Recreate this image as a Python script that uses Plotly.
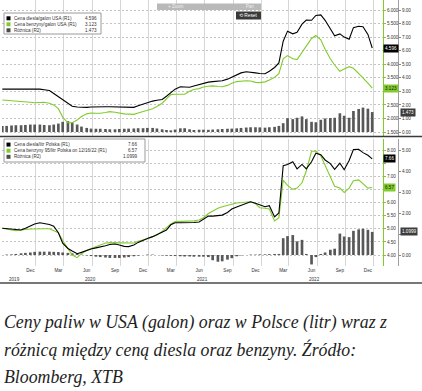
import plotly.graph_objects as go
import pandas as pd

W, H = 422, 391

dates = pd.date_range("2019-09-01", periods=80, freq="SMS")

us_diesel = [3.08, 3.07, 3.08, 3.08, 3.08, 3.09, 3.09, 3.10, 3.08, 3.06,
             3.03, 2.92, 2.80, 2.68, 2.55, 2.45, 2.42, 2.41, 2.41, 2.42,
             2.43, 2.43, 2.43, 2.43, 2.43, 2.42, 2.41, 2.41, 2.41, 2.47,
             2.53, 2.59, 2.64, 2.67, 2.70, 2.82, 2.95, 3.08, 3.17, 3.16,
             3.15, 3.20, 3.26, 3.30, 3.34, 3.36, 3.37, 3.39, 3.45, 3.52,
             3.58, 3.68, 3.72, 3.71, 3.68, 3.66, 3.65, 3.74, 3.88, 4.05,
             4.85, 5.22, 5.12, 5.18, 5.48, 5.63, 5.62, 5.80, 5.82, 5.62,
             5.30, 5.05, 5.12, 5.00, 4.92, 5.35, 5.40, 5.38, 5.10, 4.60]

us_gasoline = [2.68, 2.67, 2.66, 2.65, 2.64, 2.62, 2.60, 2.58, 2.58, 2.60,
               2.56, 2.50, 2.36, 2.05, 1.84, 1.84, 1.94, 2.07, 2.17, 2.20,
               2.19, 2.19, 2.22, 2.25, 2.23, 2.19, 2.17, 2.16, 2.15, 2.20,
               2.25, 2.30, 2.36, 2.44, 2.56, 2.72, 2.88, 2.89, 2.89, 2.89,
               3.00, 3.07, 3.10, 3.16, 3.19, 3.20, 3.18, 3.17, 3.22, 3.30,
               3.36, 3.38, 3.39, 3.38, 3.33, 3.32, 3.35, 3.42, 3.52, 3.65,
               4.20, 4.32, 4.20, 4.17, 4.45, 4.70, 4.95, 5.06, 4.90, 4.55,
               4.20, 3.97, 3.74, 3.82, 3.91, 3.85, 3.67, 3.50, 3.30, 3.12]

us_spread = [0.45, 0.45, 0.48, 0.50, 0.50, 0.52, 0.55, 0.55, 0.55, 0.52,
             0.50, 0.55, 0.62, 0.75, 0.80, 0.70, 0.55, 0.40, 0.30, 0.25,
             0.24, 0.24, 0.22, 0.20, 0.20, 0.22, 0.24, 0.25, 0.26, 0.28,
             0.28, 0.30, 0.30, 0.26, 0.20, 0.15, 0.12, 0.18, 0.27, 0.28,
             0.20, 0.15, 0.17, 0.17, 0.16, 0.18, 0.20, 0.22, 0.24, 0.25,
             0.27, 0.30, 0.33, 0.35, 0.35, 0.34, 0.32, 0.35, 0.38, 0.45,
             0.65, 1.02, 0.95, 1.05, 1.15, 0.95, 0.75, 0.72, 0.90, 1.00,
             1.03, 1.05, 1.38, 1.20, 1.05, 1.55, 1.70, 1.80, 1.72, 1.47]

pl_diesel = [5.02, 5.00, 4.98, 4.96, 4.95, 5.02, 5.10, 5.18, 5.23, 5.20,
             5.16, 5.10, 4.85, 4.45, 4.25, 4.15, 4.05, 4.10, 4.18, 4.23,
             4.27, 4.30, 4.35, 4.40, 4.42, 4.38, 4.33, 4.32, 4.38, 4.48,
             4.57, 4.63, 4.70, 4.78, 4.87, 4.95, 5.15, 5.23, 5.23, 5.23,
             5.23, 5.24, 5.26, 5.35, 5.48, 5.48, 5.50, 5.52, 5.62, 5.75,
             5.83, 5.90, 5.97, 6.03, 5.97, 5.90, 5.84, 5.88, 5.45, 5.60,
             7.40, 7.45, 7.55, 7.28, 7.45, 7.28, 7.55, 7.88, 7.82, 7.62,
             7.48, 7.26, 7.50, 7.25, 7.60, 8.02, 8.03, 7.90, 7.80, 7.66]

pl_gasoline = [5.02, 4.98, 4.95, 4.93, 4.94, 4.97, 4.99, 5.00, 5.00, 5.00,
               5.00, 4.93, 4.85, 4.55, 4.25, 4.00, 3.90, 4.05, 4.18, 4.25,
               4.33, 4.40, 4.46, 4.47, 4.47, 4.46, 4.45, 4.45, 4.46, 4.52,
               4.57, 4.62, 4.70, 4.76, 4.90, 5.05, 5.18, 5.27, 5.28, 5.28,
               5.28, 5.30, 5.33, 5.42, 5.58, 5.68, 5.78, 5.84, 5.88, 5.93,
               5.98, 6.00, 6.02, 6.03, 5.95, 5.80, 5.78, 5.75, 5.30, 5.42,
               6.85, 6.65, 6.50, 6.55, 6.75, 7.20, 7.95, 7.96, 7.78, 7.40,
               6.95, 6.62, 6.55, 6.38, 6.55, 6.83, 6.86, 6.70, 6.55, 6.57]

pl_spread = [0.00, 0.02, 0.03, 0.05, 0.08, 0.10, 0.12, 0.15, 0.16, 0.16,
             0.16, 0.15, 0.14, 0.12, 0.10, 0.08, 0.06, 0.02, -0.02, -0.05,
             -0.08, -0.10, -0.12, -0.14, -0.14, -0.14, -0.12, -0.10, -0.06, -0.03,
             0.00, 0.02, 0.02, 0.00, -0.02, -0.03, -0.04, -0.05, -0.06, -0.07,
             -0.07, -0.08, -0.08, -0.08, -0.10, -0.25, -0.32, -0.30, -0.22, -0.15,
             -0.06, -0.02, 0.00, 0.02, 0.02, 0.03, 0.03, 0.04, 0.05, 0.05,
             0.80, 0.90, 0.95, 0.65, 0.72, 0.05, -0.45, -0.10, 0.05, 0.12,
             0.25, 0.30, 1.02, 0.88, 0.85, 1.15, 1.22, 1.25, 1.20, 1.10]

month_tick_dates = ["2019-12-01", "2020-03-01", "2020-06-01", "2020-09-01",
                    "2020-12-01", "2021-03-01", "2021-06-01", "2021-09-01",
                    "2021-12-01", "2022-03-01", "2022-06-01", "2022-09-01",
                    "2022-12-01"]
month_tick_labels = ["Dec", "Mar", "Jun", "Sep", "Dec", "Mar", "Jun", "Sep",
                     "Dec", "Mar", "Jun", "Sep", "Dec"]
grid_dates = ["2019-12-19", "2020-03-19", "2020-06-19", "2020-09-19",
              "2020-12-19", "2021-03-19", "2021-06-19", "2021-09-19",
              "2021-12-19", "2022-03-19", "2022-06-19", "2022-09-19",
              "2022-12-19"]
year_labels = ["2019", "2020", "2021", "2022"]
year_label_dates = ["2019-10-12", "2020-06-12", "2021-06-11", "2022-06-12"]

# right-axis tick labels (those hidden behind the last-value boxes are left blank)
us_r1_ticks = [1.5, 2.0, 2.5, 3.0, 3.5, 4.0, 4.5, 5.0, 5.5, 6.0]
us_r1_text = ["1.500", "2.000", "2.500", "", "3.500", "4.000", "", "5.000", "5.500", "6.000"]
us_r2_ticks = [0, 1, 2, 3, 4, 5, 6, 7, 8, 9]
us_r2_text = ["0.00", "1.00", "2.00", "3.00", "4.00", "5.00", "6.00", "7.00", "8.00", "9.00"]
pl_r1_ticks = [4.0, 4.5, 5.0, 5.5, 6.0, 6.5, 7.0, 7.5, 8.0]
pl_r1_text = ["4.00", "4.50", "5.00", "5.50", "6.00", "", "7.00", "", "8.00"]
pl_r2_ticks = [0, 1, 2, 3, 4, 5]
pl_r2_text = ["0.00", "", "2.00", "3.00", "4.00", "5.00"]

us_names = ["Cena diesla/galon USA (R1)", "Cena benzyny/galon USA (R1)", "Różnica (R2)"]
us_last = ["4.596", "3.123", "1.473"]
pl_names = ["Cena diesla/litr Polska (R1)",
            "Cena benzyny 95/litr Polska on 12/16/22 (R1)", "Różnica (R2)"]
pl_last = ["7.66", "6.57", "1.0999"]

caption_lines = ["Ceny paliw w USA (galon) oraz w Polsce (litr) wraz z",
                 "różnicą między ceną diesla oraz benzyny. Źródło:",
                 "Bloomberg, XTB"]

# ---------------- styling ----------------
BLACK = "#000000"
GREEN = "#80cc2c"
BAR = "#585858"
GRID_H = "#c4c4c4"
GRID_V = "#d6d6d6"
TXT = "#333333"
SMALL = dict(family="Liberation Sans, Arial, sans-serif", size=4.6, color=TXT)


def X(px):
    return px / W


def Y(py):
    return 1 - py / H


XDOM = [X(2), X(383)]
XRANGE = ["2019-08-31", "2023-01-19"]

fig = go.Figure()
# top panel (USA)
fig.add_trace(go.Bar(x=dates, y=us_spread, marker=dict(color=BAR, line_width=0),
                     xaxis="x", yaxis="y"))
fig.add_trace(go.Scatter(x=dates, y=us_gasoline, mode="lines",
                         line=dict(color=GREEN, width=1.1), xaxis="x", yaxis="y2"))
fig.add_trace(go.Scatter(x=dates, y=us_diesel, mode="lines",
                         line=dict(color=BLACK, width=1.1), xaxis="x", yaxis="y2"))
# bottom panel (Poland)
fig.add_trace(go.Bar(x=dates, y=pl_spread, marker=dict(color=BAR, line_width=0),
                     xaxis="x2", yaxis="y3"))
fig.add_trace(go.Scatter(x=dates, y=pl_gasoline, mode="lines",
                         line=dict(color=GREEN, width=1.1), xaxis="x2", yaxis="y4"))
fig.add_trace(go.Scatter(x=dates, y=pl_diesel, mode="lines",
                         line=dict(color=BLACK, width=1.1), xaxis="x2", yaxis="y4"))

minor_grid = dict(tickmode="array", tickvals=grid_dates, showgrid=True,
                  gridcolor=GRID_V, gridwidth=1, ticks="")

TOP_DOM = [Y(136), Y(0)]
BOT_DOM = [Y(266), Y(139)]

fig.update_layout(
    width=W, height=H,
    margin=dict(l=0, r=0, t=0, b=0),
    paper_bgcolor="white", plot_bgcolor="white",
    showlegend=False, bargap=0.38,
    xaxis=dict(domain=XDOM, range=XRANGE, anchor="y", type="date",
               tickmode="array", tickvals=month_tick_dates, ticktext=month_tick_labels,
               showticklabels=False, showgrid=False, ticks="", zeroline=False,
               minor=minor_grid),
    xaxis2=dict(domain=XDOM, range=XRANGE, anchor="y3", type="date",
                tickmode="array", tickvals=month_tick_dates, ticktext=month_tick_labels,
                showticklabels=True, tickfont=SMALL, showgrid=False, ticks="",
                zeroline=False, minor=minor_grid),
    # top R2 (bars)
    yaxis=dict(domain=TOP_DOM, range=[-0.295, 9.738], side="right", anchor="free",
               position=X(398), tickmode="array", tickvals=us_r2_ticks,
               ticktext=us_r2_text, tickfont=SMALL, ticks="outside", ticklen=2,
               tickcolor="#888888", showline=True, linecolor="#a0a0a0", linewidth=1,
               showgrid=False, zeroline=False),
    # top R1 (lines)
    yaxis2=dict(overlaying="y", range=[1.3525, 6.369], side="right", anchor="x",
                tickmode="array", tickvals=us_r1_ticks, ticktext=us_r1_text,
                tickfont=SMALL, ticks="outside", ticklen=2, tickcolor=GREEN,
                showline=True, linecolor=GREEN, linewidth=1,
                showgrid=True, gridcolor=GRID_H, griddash="2px,2px", gridwidth=1,
                zeroline=False),
    # bottom R2 (bars)
    yaxis3=dict(domain=BOT_DOM, range=[-0.524, 5.524], side="right", anchor="free",
                position=X(398), tickmode="array", tickvals=pl_r2_ticks,
                ticktext=pl_r2_text, tickfont=SMALL, ticks="outside", ticklen=2,
                tickcolor="#888888", showline=True, linecolor="#a0a0a0", linewidth=1,
                showgrid=False, zeroline=False),
    # bottom R1 (lines)
    yaxis4=dict(overlaying="y3", range=[3.581, 8.419], side="right", anchor="x2",
                tickmode="array", tickvals=pl_r1_ticks, ticktext=pl_r1_text,
                tickfont=SMALL, ticks="outside", ticklen=2, tickcolor=GREEN,
                showline=True, linecolor=GREEN, linewidth=1,
                showgrid=True, gridcolor=GRID_H, griddash="2px,2px", gridwidth=1,
                zeroline=False),
)

shapes = []
annotations = []

# panel separator and bottom frame line
shapes.append(dict(type="line", xref="paper", yref="paper", x0=0, x1=1,
                   y0=Y(136.5), y1=Y(136.5), line=dict(color="#3a3a3a", width=1.5)))
shapes.append(dict(type="line", xref="paper", yref="paper", x0=0, x1=1,
                   y0=Y(283), y1=Y(283), line=dict(color="#4a4a4a", width=1.5)))

# toolbar
shapes.append(dict(type="rect", xref="paper", yref="paper", x0=X(157), x1=X(261),
                   y0=Y(10), y1=Y(3.5), fillcolor="#b9b9b9", line_width=0))
annotations.append(dict(xref="paper", yref="paper", x=X(166), y=Y(6.8), xanchor="left",
                        yanchor="middle", showarrow=False, text="+ Zoom",
                        font=dict(family="Liberation Sans", size=4.5, color="#eeeeee")))
annotations.append(dict(xref="paper", yref="paper", x=X(238), y=Y(6.8), xanchor="left",
                        yanchor="middle", showarrow=False, text="⇔ Pan",
                        font=dict(family="Liberation Sans", size=4.5, color="#eeeeee")))
shapes.append(dict(type="rect", xref="paper", yref="paper", x0=X(236), x1=X(261),
                   y0=Y(19.5), y1=Y(11.5), fillcolor="#3a3a3a", line_width=0))
annotations.append(dict(xref="paper", yref="paper", x=X(248.5), y=Y(15.5), xanchor="center",
                        yanchor="middle", showarrow=False, text="⟲ Reset",
                        font=dict(family="Liberation Sans", size=4.8, color="white")))


def legend(x0, x1, y0, y1, rows, names, values, colors, val_x):
    shapes.append(dict(type="rect", xref="paper", yref="paper", x0=X(x0), x1=X(x1),
                       y0=Y(y1), y1=Y(y0), fillcolor="white",
                       line=dict(color="#9a9a9a", width=1)))
    for ry, nm, vl, col in zip(rows, names, values, colors):
        shapes.append(dict(type="rect", xref="paper", yref="paper", x0=X(6.5), x1=X(10.5),
                           y0=Y(ry + 2), y1=Y(ry - 2), fillcolor=col, line_width=0))
        annotations.append(dict(xref="paper", yref="paper", x=X(12), y=Y(ry),
                                xanchor="left", yanchor="middle", showarrow=False,
                                text=nm, font=SMALL))
        annotations.append(dict(xref="paper", yref="paper", x=X(val_x), y=Y(ry),
                                xanchor="right", yanchor="middle", showarrow=False,
                                text=vl, font=SMALL))


legend(4, 101, 13, 34, [18.3, 24.3, 30.3], us_names, us_last,
       [BLACK, GREEN, "#4a4a4a"], 99)
legend(4, 145, 139, 162, [144.6, 150.7, 156.8], pl_names, pl_last,
       [BLACK, GREEN, "#4a4a4a"], 139)


def value_box(text, yref, yval, bg, fg, xpx):
    annotations.append(dict(xref="paper", yref=yref, x=X(xpx), y=yval, xanchor="left",
                            yanchor="middle", showarrow=False, text=text, bgcolor=bg,
                            borderpad=1,
                            font=dict(family="Liberation Sans", size=4.6, color=fg)))


value_box(us_last[0], "y2", float(us_last[0]), "#000000", "white", 383)
value_box(us_last[1], "y2", float(us_last[1]), GREEN, "#1a1a1a", 383)
value_box(us_last[2], "y", float(us_last[2]), "#3c3c3c", "white", 400)
value_box(pl_last[0], "y4", float(pl_last[0]), "#000000", "white", 383)
value_box(pl_last[1], "y4", float(pl_last[1]), GREEN, "#1a1a1a", 383)
value_box(pl_last[2], "y3", float(pl_last[2]), "#3c3c3c", "white", 400)

# year labels under the month labels
for yl, yd in zip(year_labels, year_label_dates):
    annotations.append(dict(xref="x2", yref="paper", x=yd, y=Y(279.5), xanchor="center",
                            yanchor="middle", showarrow=False, text=yl, font=SMALL))

# caption
for i, line in enumerate(caption_lines):
    annotations.append(dict(xref="paper", yref="paper", x=X(2), y=Y(322.5 + 27 * i),
                            xanchor="left", yanchor="middle", showarrow=False,
                            text="<i>" + line + "</i>",
                            font=dict(family="Liberation Serif, Times New Roman, serif",
                                      size=17.8, color="#1e1e1e")))

fig.update_layout(shapes=shapes, annotations=annotations)

fig.write_html("out.html",
               config={"displayModeBar": False, "staticPlot": True},
               post_script="document.body.style.margin='0';"
                           "document.body.style.padding='0';"
                           "document.body.style.overflow='hidden';")
